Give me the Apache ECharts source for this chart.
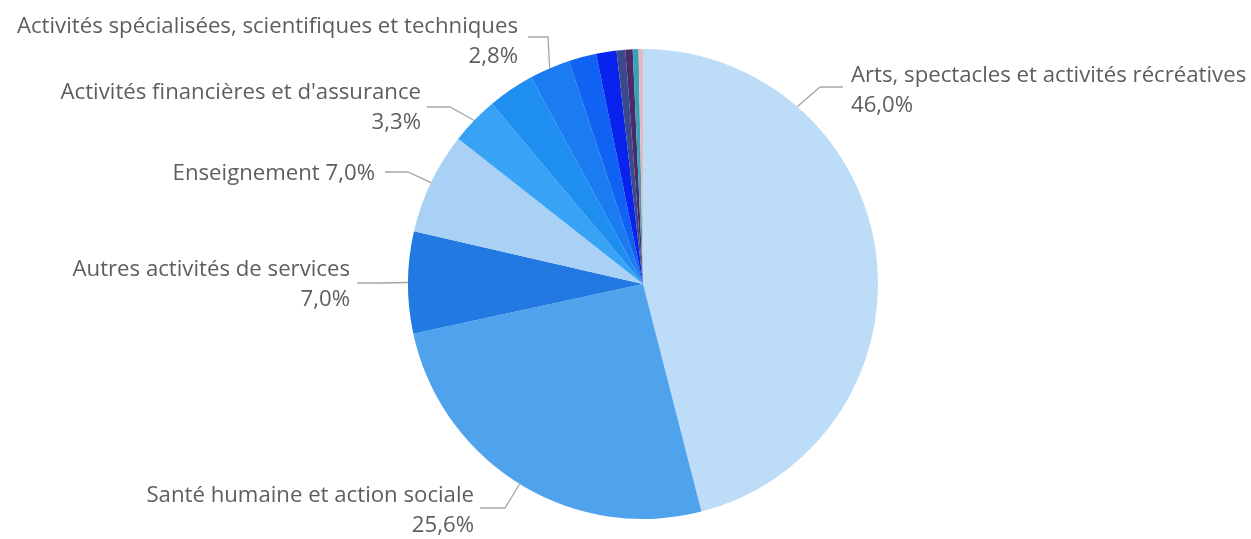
<!DOCTYPE html>
<html>
<head>
<meta charset="utf-8">
<script src="https://cdn.jsdelivr.net/npm/echarts@6/dist/echarts.min.js"></script>
<style>
  html, body { margin: 0; padding: 0; background: #ffffff; }
  #chart { width: 1251px; height: 539px; }
</style>
</head>
<body>
<div id="chart"></div>
<script>
// ---- Data ----
const categories = [
  "Arts, spectacles et activités récréatives",
  "Santé humaine et action sociale",
  "Autres activités de services",
  "Enseignement",
  "Activités financières et d'assurance",
  "Information et communication",
  "Activités spécialisées, scientifiques et techniques",
  "Commerce ; réparation d'automobiles et de motocycles",
  "Activités de services administratifs et de soutien",
  "Hébergement et restauration",
  "Industrie manufacturière",
  "Administration publique",
  "Construction"
];
const shares = [46.0, 25.6, 7.0, 7.0, 3.3, 3.2, 2.8, 1.9, 1.4, 0.6, 0.5, 0.4, 0.3];
const sliceColors = [
  "#BDDCF8", "#4FA3EC", "#2379E2", "#A9D0F5", "#38A3F5", "#1E8EF1", "#1A7CF0",
  "#1062F2", "#0A22EE", "#3B4A8A", "#4B2A6A", "#3AA0B5", "#E6B9BE"
];
const labelled = [true, true, true, true, true, false, true, false, false, false, false, false, false];
const singleLine = [false, false, false, true, false, false, false, false, false, false, false, false, false];

// ---- Layout (label placement, pixels) ----
const CX = 643, CY = 284, R = 235;
const labelPlacement = {
  0: { x: 851, y: 91, align: 'left',  anchorDeg: 41, bend: [[820, 87], [843, 87]] },
  1: { x: 474, y: 511, align: 'right', bend: [[505, 508], [480, 508]] },
  2: { x: 350, y: 285, align: 'right', bend: [[382, 283], [357, 283]] },
  3: { x: 375, y: 174, align: 'right', bend: [[408, 172], [385, 172]] },
  4: { x: 421, y: 108, align: 'right', bend: [[450, 107], [427, 107]] },
  6: { x: 518, y: 42,  align: 'right', bend: [[548, 37], [528, 37]] }
};

function fmt(v) { return v.toFixed(1).replace('.', ',') + '%'; }

const seriesData = categories.map((name, i) => ({
  name: name,
  value: shares[i],
  itemStyle: { color: sliceColors[i] },
  label: { show: labelled[i] },
  labelLine: { show: labelled[i] }
}));

const chart = echarts.init(document.getElementById('chart'), null, { renderer: 'canvas' });
chart.setOption({
  backgroundColor: '#ffffff',
  animation: false,
  series: [{
    type: 'pie',
    center: [CX, CY],
    radius: R,
    startAngle: 90,
    clockwise: true,
    data: seriesData,
    itemStyle: { borderWidth: 0 },
    emphasis: { disabled: true },
    label: {
      show: true,
      position: 'outside',
      overflow: 'none',
      color: '#605E5C',
      fontFamily: "'Segoe UI', 'Open Sans', sans-serif",
      fontSize: 22.2,
      lineHeight: 30,
      formatter: function (p) {
        return singleLine[p.dataIndex] ? (p.name + ' ' + fmt(p.value)) : (p.name + '\n' + fmt(p.value));
      }
    },
    labelLine: {
      show: true,
      lineStyle: { color: '#A6A6A6', width: 1.3 }
    },
    labelLayout: function (params) {
      const cfg = labelPlacement[params.dataIndex];
      if (!cfg) return {};
      let start;
      if (cfg.anchorDeg !== undefined) {
        const a = cfg.anchorDeg * Math.PI / 180;
        start = [CX + R * Math.sin(a), CY - R * Math.cos(a)];
      } else if (params.labelLinePoints && params.labelLinePoints[0]) {
        start = params.labelLinePoints[0];
      } else {
        start = cfg.bend[0];
      }
      return {
        x: cfg.x,
        y: cfg.y,
        align: cfg.align,
        verticalAlign: 'middle',
        labelLinePoints: [start].concat(cfg.bend)
      };
    }
  }]
});
</script>
</body>
</html>
